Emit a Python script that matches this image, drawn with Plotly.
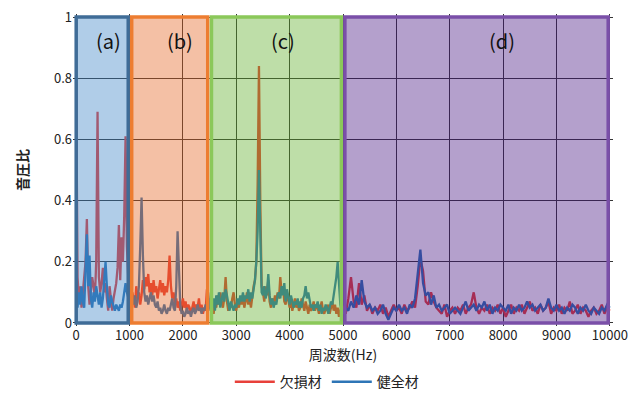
import numpy as np
import plotly.graph_objects as go

# Frequency grids (Hz)
freq_a = list(range(0, 1000, 25))
freq_b = list(range(1000, 2500, 25))
freq_c = list(range(2500, 5000, 25))
freq_d = list(range(5000, 10001, 50))

# 欠損材 (red)
red_a = [0.78, 0.15, 0.08, 0.12, 0.05, 0.10, 0.14, 0.20, 0.34, 0.12,
         0.06, 0.10, 0.15, 0.12, 0.08, 0.20, 0.69, 0.15, 0.10, 0.13,
         0.18, 0.10, 0.13, 0.08, 0.04, 0.12, 0.07, 0.04, 0.08, 0.11,
         0.13, 0.18, 0.32, 0.14, 0.28, 0.20, 0.35, 0.61, 0.25, 0.15]
red_b = [0.12, 0.06, 0.10, 0.08, 0.05, 0.12, 0.08, 0.10, 0.06, 0.09,
         0.14, 0.11, 0.15, 0.12, 0.16, 0.10, 0.13, 0.09, 0.14, 0.10,
         0.12, 0.08, 0.11, 0.14, 0.10, 0.13, 0.09, 0.12, 0.10, 0.14,
         0.22, 0.12, 0.08, 0.10, 0.06, 0.08, 0.05, 0.07, 0.04, 0.06,
         0.08, 0.05, 0.07, 0.04, 0.06, 0.05, 0.03, 0.05, 0.07, 0.04,
         0.06, 0.05, 0.08, 0.04, 0.06, 0.03, 0.05, 0.04, 0.11, 0.05]
red_c = [0.08, 0.04, 0.06, 0.03, 0.07, 0.05, 0.09, 0.06, 0.10, 0.07,
         0.05, 0.08, 0.15, 0.07, 0.04, 0.06, 0.05, 0.08, 0.10, 0.06,
         0.04, 0.07, 0.05, 0.08, 0.06, 0.09, 0.05, 0.07, 0.10, 0.06,
         0.08, 0.05, 0.09, 0.12, 0.14, 0.20, 0.45, 0.84, 0.40, 0.12,
         0.10, 0.07, 0.12, 0.09, 0.14, 0.07, 0.05, 0.08, 0.06, 0.09,
         0.07, 0.10, 0.08, 0.15, 0.10, 0.12, 0.07, 0.06, 0.10, 0.08,
         0.05, 0.07, 0.04, 0.06, 0.08, 0.05, 0.07, 0.04, 0.05, 0.08,
         0.06, 0.04, 0.07, 0.05, 0.03, 0.06, 0.04, 0.05, 0.07, 0.04,
         0.06, 0.05, 0.03, 0.05, 0.07, 0.04, 0.03, 0.05, 0.04, 0.06,
         0.03, 0.05, 0.07, 0.04, 0.06, 0.03, 0.05, 0.02, 0.04, 0.06]
red_d = [0.05, 0.03, 0.08, 0.15, 0.07, 0.05, 0.13, 0.06, 0.09, 0.04,
         0.06, 0.03, 0.05, 0.04, 0.06, 0.03, 0.05, 0.02, 0.04, 0.06,
         0.04, 0.05, 0.03, 0.06, 0.04, 0.05, 0.07, 0.05, 0.12, 0.21,
         0.17, 0.07, 0.06, 0.10, 0.07, 0.05, 0.04, 0.03, 0.06, 0.02,
         0.04, 0.05, 0.03, 0.05, 0.04, 0.06, 0.03, 0.05, 0.06, 0.10,
         0.05, 0.03, 0.05, 0.04, 0.06, 0.03, 0.05, 0.04, 0.06, 0.03,
         0.05, 0.02, 0.04, 0.06, 0.03, 0.05, 0.04, 0.06, 0.03, 0.05,
         0.07, 0.04, 0.05, 0.03, 0.06, 0.04, 0.05, 0.07, 0.03, 0.05,
         0.04, 0.06, 0.03, 0.05, 0.04, 0.07, 0.03, 0.04, 0.06, 0.03,
         0.05, 0.04, 0.02, 0.04, 0.05, 0.03, 0.04, 0.06, 0.03, 0.05,
         0.04]

# 健全材 (blue)
blue_a = [0.08, 0.05, 0.10, 0.06, 0.12, 0.07, 0.05, 0.15, 0.29, 0.12,
          0.22, 0.08, 0.05, 0.10, 0.07, 0.12, 0.08, 0.06, 0.10, 0.05,
          0.08, 0.14, 0.20, 0.12, 0.06, 0.05, 0.09, 0.07, 0.05, 0.04,
          0.06, 0.05, 0.04, 0.06, 0.05, 0.07, 0.10, 0.13, 0.10, 0.08]
blue_b = [0.07, 0.05, 0.08, 0.06, 0.09, 0.05, 0.07, 0.12, 0.25, 0.41,
          0.22, 0.10, 0.07, 0.09, 0.06, 0.08, 0.10, 0.07, 0.09, 0.06,
          0.05, 0.07, 0.04, 0.05, 0.03, 0.04, 0.06, 0.04, 0.03, 0.05,
          0.04, 0.06, 0.08, 0.05, 0.04, 0.12, 0.30, 0.18, 0.06, 0.03,
          0.04, 0.02, 0.03, 0.05, 0.03, 0.04, 0.02, 0.04, 0.05, 0.03,
          0.04, 0.06, 0.04, 0.05, 0.03, 0.05, 0.04, 0.06, 0.05, 0.04]
blue_c = [0.06, 0.10, 0.05, 0.08, 0.04, 0.09, 0.06, 0.10, 0.05, 0.08,
          0.10, 0.07, 0.11, 0.09, 0.06, 0.04, 0.07, 0.05, 0.04, 0.06,
          0.05, 0.08, 0.06, 0.09, 0.07, 0.10, 0.07, 0.09, 0.08, 0.11,
          0.07, 0.10, 0.08, 0.11, 0.14, 0.20, 0.30, 0.50, 0.25, 0.10,
          0.09, 0.12, 0.08, 0.10, 0.16, 0.09, 0.06, 0.08, 0.05, 0.07,
          0.06, 0.09, 0.10, 0.08, 0.12, 0.09, 0.13, 0.07, 0.11, 0.08,
          0.06, 0.09, 0.07, 0.05, 0.07, 0.06, 0.08, 0.05, 0.07, 0.05,
          0.08, 0.09, 0.12, 0.08, 0.10, 0.07, 0.05, 0.06, 0.04, 0.06,
          0.05, 0.07, 0.04, 0.06, 0.03, 0.05, 0.04, 0.06, 0.05, 0.03,
          0.05, 0.07, 0.06, 0.09, 0.12, 0.15, 0.20, 0.12, 0.06, 0.04]
blue_d = [0.03, 0.05, 0.04, 0.07, 0.05, 0.09, 0.06, 0.14, 0.07, 0.05,
          0.06, 0.04, 0.05, 0.03, 0.04, 0.06, 0.03, 0.01, 0.03, 0.05,
          0.04, 0.06, 0.04, 0.05, 0.03, 0.06, 0.05, 0.08, 0.16, 0.24,
          0.13, 0.09, 0.10, 0.06, 0.09, 0.05, 0.06, 0.04, 0.05, 0.06,
          0.03, 0.04, 0.05, 0.04, 0.03, 0.05, 0.07, 0.04, 0.05, 0.06,
          0.04, 0.06, 0.05, 0.07, 0.04, 0.06, 0.03, 0.05, 0.04, 0.06,
          0.05, 0.04, 0.06, 0.03, 0.05, 0.04, 0.06, 0.04, 0.05, 0.07,
          0.05, 0.06, 0.04, 0.05, 0.06, 0.04, 0.05, 0.08, 0.05, 0.04,
          0.06, 0.04, 0.05, 0.03, 0.05, 0.04, 0.06, 0.05, 0.03, 0.05,
          0.04, 0.06, 0.04, 0.03, 0.05, 0.04, 0.03, 0.05, 0.04, 0.06,
          0.05]

series_names = ["欠損材", "健全材"]
x_ticks = list(range(0, 10001, 1000))
y_ticks = [0, 0.2, 0.4, 0.6, 0.8, 1]

# Frequency bands (a)-(d)
band_labels = ["(a)", "(b)", "(c)", "(d)"]
band_start = [0, 1040, 2535, 5035]
band_end = [975, 2465, 4970, 9970]
band_label_x = [600, 1950, 3880, 7980]

freq = freq_a + freq_b + freq_c + freq_d
red = red_a + red_b + red_c + red_d
blue = blue_a + blue_b + blue_c + blue_d

FONT = "Noto Sans CJK JP"

fig = go.Figure()
fig.add_trace(go.Scatter(x=freq, y=red, mode="lines", name=series_names[0],
                         line=dict(color="#E8403A", width=2.3)))
fig.add_trace(go.Scatter(x=freq, y=blue, mode="lines", name=series_names[1],
                         line=dict(color="#2E75B6", width=2.3)))

band_fill = ["rgba(57,130,197,0.4)", "rgba(228,98,30,0.4)",
             "rgba(92,172,37,0.4)", "rgba(67,17,127,0.4)"]
band_line = ["#3F6C97", "#ED7D31", "#8BC85A", "#7A4FA8"]

for i in range(4):
    fig.add_shape(type="rect", xref="x", yref="y",
                  x0=band_start[i], x1=band_end[i], y0=0, y1=1,
                  fillcolor=band_fill[i], line=dict(color=band_line[i], width=3.5),
                  layer="above")
    fig.add_annotation(x=band_label_x[i], y=0.925, xref="x", yref="y",
                       text=band_labels[i], showarrow=False,
                       font=dict(family=FONT, size=20, color="#111111"))

fig.update_layout(
    width=630, height=394,
    margin=dict(l=73, r=17, t=14, b=68, autoexpand=False),
    paper_bgcolor="white", plot_bgcolor="white",
    font=dict(family=FONT, size=14, color="#222222"),
    legend=dict(orientation="h", x=0.47, xanchor="center", y=-0.18,
                yanchor="middle", font=dict(size=14), itemwidth=40,
                tracegroupgap=0),
    showlegend=True,
)
fig.update_xaxes(range=[-60, 10060], tickvals=x_ticks, ticktext=[str(v) for v in x_ticks],
                 tickfont=dict(size=13),
                 showgrid=True, gridcolor="#353535", gridwidth=1, automargin=False,
                 zeroline=False, showline=False, ticks="",
                 title=dict(text="周波数(Hz)", standoff=4, font=dict(size=14)))
fig.update_yaxes(range=[-0.01, 1.01], tickvals=y_ticks,
                 ticktext=["0", "0.2", "0.4", "0.6", "0.8", "1"],
                 tickfont=dict(size=13),
                 showgrid=True, gridcolor="#353535", gridwidth=1, automargin=False,
                 zeroline=False, showline=False, ticks="",
                 title=dict(text="<b>音圧比</b>", standoff=22, font=dict(size=14)))

fig.write_html("out.html", config={"displayModeBar": False},
               post_script="document.body.style.margin='0';document.body.style.overflow='hidden';")
